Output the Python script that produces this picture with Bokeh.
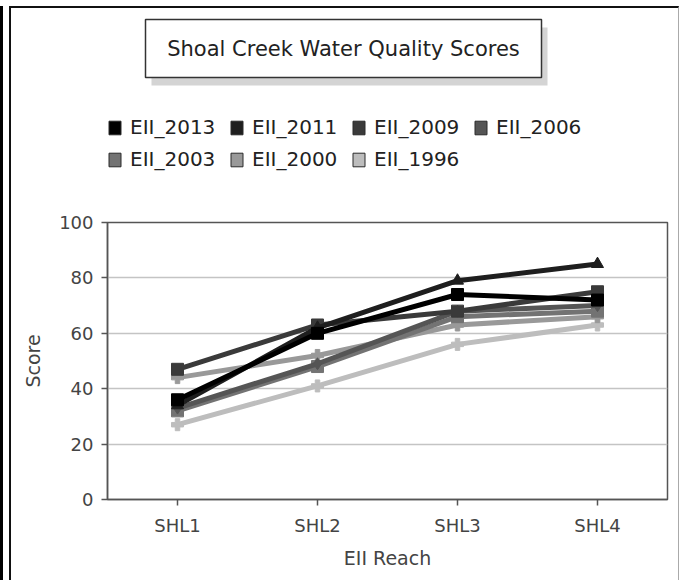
from bokeh.plotting import figure
from bokeh.layouts import column
from bokeh.models import (FactorRange, Range1d, Legend, LegendItem, Label,
                          ColumnDataSource, FixedTicker)
from bokeh.embed import file_html
from bokeh.resources import INLINE

# ---- data ----
reaches = ["SHL1", "SHL2", "SHL3", "SHL4"]
series_names = ["EII_2013", "EII_2011", "EII_2009", "EII_2006",
                "EII_2003", "EII_2000", "EII_1996"]
eii_2013 = [36, 60, 74, 72]
eii_2011 = [34, 62, 79, 85]
eii_2009 = [47, 63, 68, 75]
eii_2006 = [33, 49, 68, 70]
eii_2003 = [32, 48, 66, 68]
eii_2000 = [44, 52, 63, 66]
eii_1996 = [27, 41, 56, 63]
y_ticks = [0, 20, 40, 60, 80, 100]
title_text = "Shoal Creek Water Quality Scores"

series_values = [eii_2013, eii_2011, eii_2009, eii_2006, eii_2003, eii_2000, eii_1996]
colors = ["#000000", "#1e1e1e", "#3a3a3a", "#555555", "#737373", "#999999", "#bdbdbd"]
markers = ["square", "triangle", "square", "diamond", "square", "plus", "plus"]

FONT = "DejaVu Sans"
W = 667
TOP_H = 196
BOT_H = 376
BL, BR = 96, 11          # shared left/right borders so both frames align

# ---------- top panel: title box + legend (drawn in page-like pixel coords) ----------
top = figure(width=W, height=TOP_H, x_range=Range1d(107, 667), y_range=Range1d(204, 8),
             output_backend="svg", toolbar_location=None,
             x_axis_location=None, y_axis_location=None,
             min_border_left=BL, min_border_right=BR,
             min_border_top=0, min_border_bottom=0)
top.grid.visible = False
top.outline_line_color = None
top.background_fill_color = "white"
top.border_fill_color = "white"

# shadow + box
top.quad(left=[151], right=[547], top=[27], bottom=[85], fill_color="#d4d4d4", line_color=None)
top.quad(left=[145], right=[541], top=[19], bottom=[77], fill_color="white",
         line_color="#333333", line_width=1.5)
top.add_layout(Label(x=343, y=48, text=title_text, text_font=FONT,
                     text_font_size="21px", text_color="#222222",
                     text_align="center", text_baseline="middle"))

# legend proxies (placed outside the visible range, only used for swatches)
items = []
for name, c in zip(series_names, colors):
    r = top.quad(left=[0], right=[1], top=[0], bottom=[1], fill_color=c,
                 line_color="#2a2a2a", line_width=1)
    items.append(LegendItem(label=name, renderers=[r]))

legend = Legend(items=items, location=(0, 33), orientation="horizontal", ncols=4,
                glyph_width=15, glyph_height=17, label_height=21, label_width=91,
                spacing=8, label_standoff=8, padding=0, margin=0,
                label_text_font=FONT, label_text_font_size="20px",
                label_text_color="#222222",
                border_line_color=None, background_fill_alpha=0)
top.add_layout(legend)

# ---------- main chart ----------
p = figure(width=W, height=BOT_H, x_range=FactorRange(*reaches), y_range=Range1d(0, 100),
           output_backend="svg", toolbar_location=None,
           min_border_left=BL, min_border_right=BR, min_border_top=18, min_border_bottom=81)
p.background_fill_color = "white"
p.border_fill_color = "white"
p.outline_line_color = "#555555"
p.outline_line_width = 1.5

p.xgrid.grid_line_color = None
p.ygrid.grid_line_color = "#c4c4c4"
p.ygrid.grid_line_width = 1.5
p.yaxis.ticker = FixedTicker(ticks=y_ticks)

for ax in (p.xaxis[0], p.yaxis[0]):
    ax.axis_line_color = "#555555"
    ax.axis_line_width = 1.5
    ax.major_tick_line_color = "#555555"
    ax.major_tick_line_width = 1.5
    ax.major_tick_out = 6
    ax.major_tick_in = 0
    ax.minor_tick_line_color = None
    ax.major_label_text_font = FONT
    ax.major_label_text_font_size = "18px"
    ax.major_label_text_color = "#444444"
    ax.axis_label_text_font = FONT
    ax.axis_label_text_font_size = "19px"
    ax.axis_label_text_font_style = "normal"
    ax.axis_label_text_color = "#444444"

p.xaxis.axis_label = "EII Reach"
p.yaxis.axis_label = "Score"
p.xaxis.major_label_standoff = 9
p.xaxis.axis_label_standoff = 8
p.yaxis.major_label_standoff = 8
p.yaxis.axis_label_standoff = 12

for name, vals, c, m in reversed(list(zip(series_names, series_values, colors, markers))):
    src = ColumnDataSource(dict(x=reaches, y=vals))
    p.line("x", "y", source=src, line_color=c, line_width=5)
    p.scatter("x", "y", source=src, marker=m, size=12, fill_color=c, line_color=c)

layout = column(top, p, spacing=0,
                styles={"margin-left": "9px", "margin-top": "6px",
                        "border-left": "2px solid #111111",
                        "border-top": "2px solid #111111",
                        "border-right": "1px solid #aaaaaa",
                        "box-shadow": "-6px 0 0 0 #ffffff, -9px 0 0 0 #000000"})

open("out.html", "w").write(file_html(layout, INLINE))
